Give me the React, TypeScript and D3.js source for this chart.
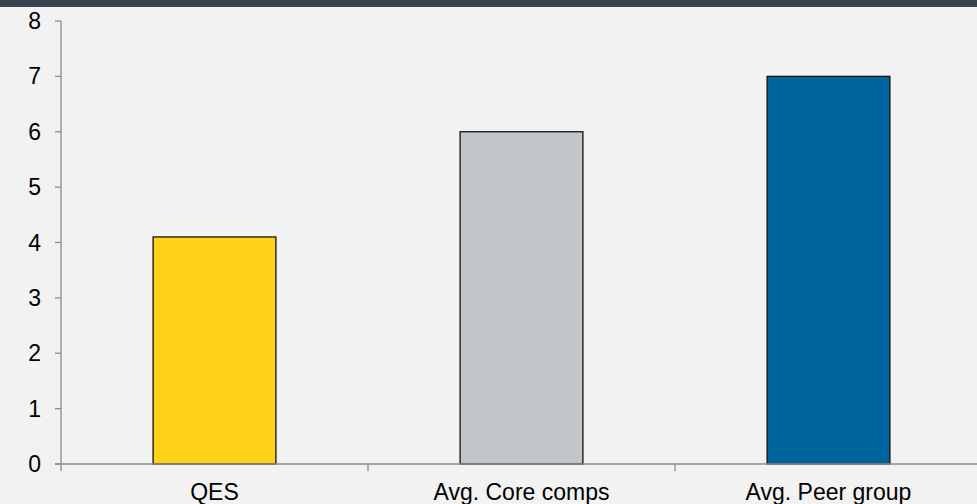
import React from "react";
import * as d3 from "d3";

// chart data
const categories = ["QES", "Avg. Core comps", "Avg. Peer group"];
const values = [4.1, 6.0, 7.0];
const barColors = ["#fed217", "#c3c6c8", "#00659e"];
const yTicks = [0, 1, 2, 3, 4, 5, 6, 7, 8];

const W = 977;
const H = 504;
const margin = { top: 21, right: -5, bottom: 40, left: 61 };

export default function App() {
  const x = d3
    .scaleBand<string>()
    .domain(categories)
    .range([margin.left, W - margin.right])
    .paddingInner(0.6)
    .paddingOuter(0.3);
  const y = d3
    .scaleLinear()
    .domain([0, 8])
    .range([H - margin.bottom, margin.top]);

  const axisColor = "#8c8c8c";
  const step = x.step();
  const y0 = y(0);

  return (
    <svg
      width={W}
      height={H}
      style={{ position: "fixed", top: 0, left: 0, background: "#f2f2f2" }}
      fontFamily="'Liberation Sans', Arial, sans-serif"
    >
      <rect x={0} y={0} width={W} height={H} fill="#f2f2f2" />
      <rect x={0} y={0} width={W} height={7} fill="#38434f" />

      {/* y axis */}
      <line x1={margin.left} x2={margin.left} y1={y(8)} y2={y0} stroke={axisColor} strokeWidth={1.3} />
      {yTicks.map((t) => (
        <g key={t}>
          <line x1={margin.left - 6} x2={margin.left} y1={y(t)} y2={y(t)} stroke={axisColor} strokeWidth={1.3} />
          <text x={41} y={y(t)} dy="0.35em" textAnchor="end" fontSize={23} fill="#000">
            {t}
          </text>
        </g>
      ))}

      {/* bars */}
      {categories.map((c, i) => (
        <rect
          key={c}
          x={x(c)}
          y={y(values[i])}
          width={x.bandwidth()}
          height={y0 - y(values[i])}
          fill={barColors[i]}
          stroke="#111"
          strokeWidth={1.3}
        />
      ))}

      {/* x axis */}
      <line x1={margin.left - 6} x2={W} y1={y0} y2={y0} stroke={axisColor} strokeWidth={1.3} />
      {categories.map((c, i) => (
        <line
          key={"t" + c}
          x1={margin.left + step * i}
          x2={margin.left + step * i}
          y1={y0}
          y2={y0 + 7}
          stroke={axisColor}
          strokeWidth={1.3}
        />
      ))}
      {categories.map((c) => (
        <text
          key={"l" + c}
          x={(x(c) ?? 0) + x.bandwidth() / 2}
          y={500}
          textAnchor="middle"
          fontSize={23}
          fill="#000"
        >
          {c}
        </text>
      ))}
    </svg>
  );
}
